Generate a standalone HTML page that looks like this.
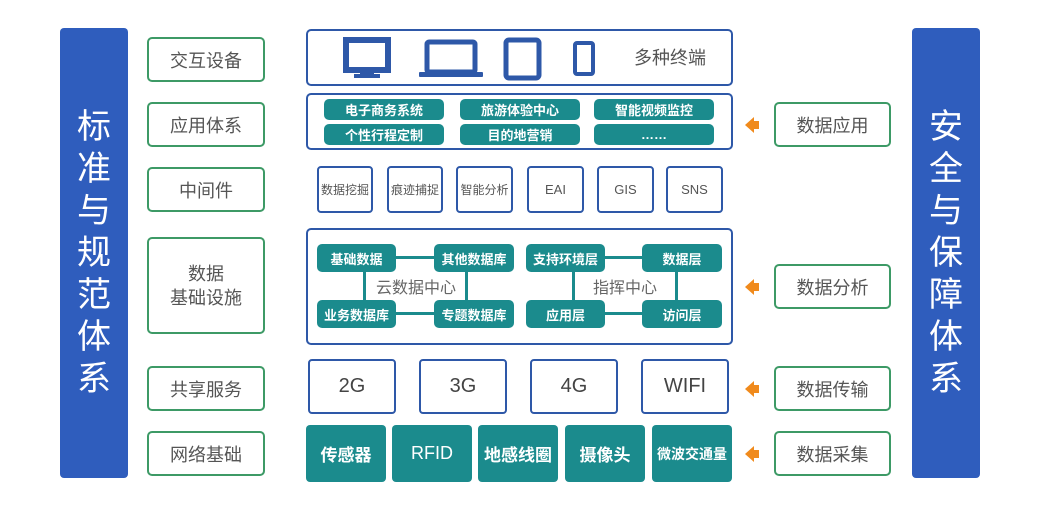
<!DOCTYPE html><html><head><meta charset="utf-8"><style>
body{margin:0;width:1044px;height:505px;background:#fff;position:relative;overflow:hidden;font-family:"Liberation Sans","Noto Sans CJK SC",sans-serif}
.a{position:absolute;box-sizing:border-box;display:flex;align-items:center;justify-content:center;text-align:center}
.side{background:#2f5dbd;color:#fff;font-size:34px;line-height:42px;border-radius:4px;flex-direction:column}
.g{border:2px solid #3d9a66;border-radius:5px;color:#555;font-size:18px;background:#fff}
.b{border:2px solid #2e58a8;border-radius:5px;background:#fff}
.t{background:#1b8b8d;color:#fff;border-radius:5px;font-weight:bold;font-size:13px}
.m{border:2px solid #2e58a8;border-radius:4px;color:#555;font-size:12px;white-space:nowrap}
.n{border:2px solid #2e58a8;border-radius:4px;color:#444;font-size:20px}
.big{background:#1b8b8d;color:#fff;border-radius:4px;font-size:17px;font-weight:bold}
.ln{position:absolute;background:#1b8b8d}
.arr{position:absolute;width:0;height:0;border-top:8px solid transparent;border-bottom:8px solid transparent;border-right:9px solid #f08a1c}
.ar2{position:absolute;width:6px;height:8px;background:#f08a1c}
</style></head><body>
<div class="a side" style="left:60px;top:28px;width:68px;height:450px">标<br>准<br>与<br>规<br>范<br>体<br>系</div>
<div class="a side" style="left:912px;top:28px;width:68px;height:450px">安<br>全<br>与<br>保<br>障<br>体<br>系</div>
<div class="a g" style="left:147px;top:37px;width:118px;height:45px">交互设备</div>
<div class="a g" style="left:147px;top:102px;width:118px;height:45px">应用体系</div>
<div class="a g" style="left:147px;top:167px;width:118px;height:45px">中间件</div>
<div class="a g" style="left:147px;top:237px;width:118px;height:97px;line-height:24px">数据<br>基础设施</div>
<div class="a g" style="left:147px;top:366px;width:118px;height:45px">共享服务</div>
<div class="a g" style="left:147px;top:431px;width:118px;height:45px">网络基础</div>
<div class="a g" style="left:774px;top:102px;width:117px;height:45px">数据应用</div>
<div class="a g" style="left:774px;top:264px;width:117px;height:45px">数据分析</div>
<div class="a g" style="left:774px;top:366px;width:117px;height:45px">数据传输</div>
<div class="a g" style="left:774px;top:431px;width:117px;height:45px">数据采集</div>
<div class="arr" style="left:745px;top:117px"></div><div class="ar2" style="left:753px;top:121px"></div>
<div class="arr" style="left:745px;top:279px"></div><div class="ar2" style="left:753px;top:283px"></div>
<div class="arr" style="left:745px;top:381px"></div><div class="ar2" style="left:753px;top:385px"></div>
<div class="arr" style="left:745px;top:446px"></div><div class="ar2" style="left:753px;top:450px"></div>

<div class="a b" style="left:306px;top:29px;width:427px;height:57px"></div>
<svg style="position:absolute;left:306px;top:29px" width="427" height="57">
<rect x="40" y="11" width="42" height="30" fill="none" stroke="#2e58a8" stroke-width="6"/><rect x="54" y="41" width="14" height="5" fill="#2e58a8"/><rect x="48" y="45" width="26" height="4" fill="#2e58a8"/>
<rect x="121" y="13" width="48" height="30" rx="2" fill="none" stroke="#2e58a8" stroke-width="5"/><rect x="113" y="43" width="64" height="5" rx="1" fill="#2e58a8"/>
<rect x="200" y="11" width="33" height="38" rx="3" fill="none" stroke="#2e58a8" stroke-width="5"/><circle cx="216.5" cy="45" r="1.5" fill="#fff"/>
<rect x="269" y="14" width="18" height="31" rx="2" fill="none" stroke="#2e58a8" stroke-width="4"/>
<text x="328" y="35" font-size="18" fill="#555" font-family="Liberation Sans,Noto Sans CJK SC,sans-serif">多种终端</text>
</svg>

<div class="a b" style="left:306px;top:93px;width:427px;height:57px"></div>
<div class="a t" style="left:324px;top:99px;width:120px;height:21px">电子商务系统</div>
<div class="a t" style="left:460px;top:99px;width:120px;height:21px">旅游体验中心</div>
<div class="a t" style="left:594px;top:99px;width:120px;height:21px">智能视频监控</div>
<div class="a t" style="left:324px;top:124px;width:120px;height:21px">个性行程定制</div>
<div class="a t" style="left:460px;top:124px;width:120px;height:21px">目的地营销</div>
<div class="a t" style="left:594px;top:124px;width:120px;height:21px">……</div>

<div class="a m" style="left:317px;top:166px;width:56px;height:47px">数据挖掘</div>
<div class="a m" style="left:387px;top:166px;width:56px;height:47px">痕迹捕捉</div>
<div class="a m" style="left:456px;top:166px;width:57px;height:47px">智能分析</div>
<div class="a m" style="left:527px;top:166px;width:57px;height:47px;font-size:13px">EAI</div>
<div class="a m" style="left:597px;top:166px;width:57px;height:47px;font-size:13px">GIS</div>
<div class="a m" style="left:666px;top:166px;width:57px;height:47px;font-size:13px">SNS</div>

<div class="a b" style="left:306px;top:228px;width:427px;height:117px"></div>
<div class="ln" style="left:390px;top:256px;width:50px;height:3px"></div>
<div class="ln" style="left:390px;top:312px;width:50px;height:3px"></div>
<div class="ln" style="left:363px;top:268px;width:3px;height:36px"></div>
<div class="ln" style="left:465px;top:268px;width:3px;height:36px"></div>
<div class="ln" style="left:600px;top:256px;width:46px;height:3px"></div>
<div class="ln" style="left:600px;top:312px;width:46px;height:3px"></div>
<div class="ln" style="left:572px;top:268px;width:3px;height:36px"></div>
<div class="ln" style="left:675px;top:268px;width:3px;height:36px"></div>
<div class="a" style="left:370px;top:275px;width:92px;height:22px;color:#666;font-size:16px">云数据中心</div>
<div class="a" style="left:578px;top:275px;width:94px;height:22px;color:#666;font-size:16px">指挥中心</div>
<div class="a t" style="left:317px;top:244px;width:79px;height:28px">基础数据</div>
<div class="a t" style="left:434px;top:244px;width:80px;height:28px">其他数据库</div>
<div class="a t" style="left:317px;top:300px;width:79px;height:28px">业务数据库</div>
<div class="a t" style="left:434px;top:300px;width:80px;height:28px">专题数据库</div>
<div class="a t" style="left:526px;top:244px;width:79px;height:28px">支持环境层</div>
<div class="a t" style="left:642px;top:244px;width:80px;height:28px">数据层</div>
<div class="a t" style="left:526px;top:300px;width:79px;height:28px">应用层</div>
<div class="a t" style="left:642px;top:300px;width:80px;height:28px">访问层</div>

<div class="a n" style="left:308px;top:359px;width:88px;height:55px">2G</div>
<div class="a n" style="left:419px;top:359px;width:88px;height:55px">3G</div>
<div class="a n" style="left:530px;top:359px;width:88px;height:55px">4G</div>
<div class="a n" style="left:641px;top:359px;width:88px;height:55px">WIFI</div>

<div class="a big" style="left:306px;top:425px;width:80px;height:57px">传感器</div>
<div class="a big" style="left:392px;top:425px;width:80px;height:57px;font-weight:normal;font-size:18px">RFID</div>
<div class="a big" style="left:478px;top:425px;width:80px;height:57px">地感线圈</div>
<div class="a big" style="left:565px;top:425px;width:80px;height:57px">摄像头</div>
<div class="a big" style="left:652px;top:425px;width:80px;height:57px;font-size:14px">微波交通量</div>
</body></html>
